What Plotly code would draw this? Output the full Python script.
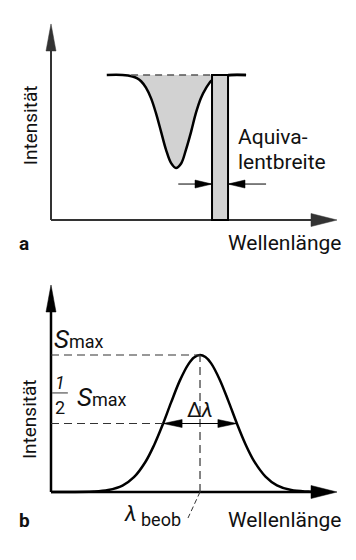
import plotly.graph_objects as go

# ---------------- data ----------------
# Panel a: absorption line (intensity relative to continuum = 1)
lam_a = [1.95, 2.5, 2.85, 3.0, 3.15, 3.32, 3.5, 3.67, 3.85, 4.02, 4.2, 4.37,
         4.55, 4.72, 4.9, 5.07, 5.24, 5.42, 5.6, 5.77, 5.95, 6.3, 6.82]
int_a = [1.0, 1.0, 0.99, 0.979, 0.957, 0.913, 0.839, 0.737, 0.608, 0.486, 0.392, 0.359,
         0.39, 0.486, 0.61, 0.74, 0.84, 0.91, 0.96, 0.98, 0.99, 1.0, 1.0]
continuum_x = [1.95, 6.82]
continuum_y = [1.0, 1.0]
dip_range = [2.8, 5.63]          # where the dashed continuum is visible
eqw_left, eqw_right = 5.63, 6.19  # equivalent-width rectangle

# Panel b: emission line (intensity relative to S_max = 1)
lam_b = [0.0, 1.5, 2.0, 2.5, 2.9, 3.3, 3.6, 3.9, 4.2, 4.5, 4.8, 5.0, 5.21,
         5.4, 5.6, 5.9, 6.2, 6.5, 6.8, 7.1, 7.5, 7.9, 8.4, 9.0, 9.5]
int_b = [0.0, 0.003, 0.014, 0.047, 0.108, 0.219, 0.340, 0.489, 0.654, 0.811, 0.932, 0.982, 1.0,
         0.985, 0.939, 0.820, 0.665, 0.500, 0.349, 0.226, 0.113, 0.049, 0.014, 0.003, 0.0]
lam_peak = 5.21
s_max = 1.0
half_left, half_right = 3.92, 6.50

FONT = "Roboto, Liberation Sans, sans-serif"
TXT = "#111111"
GRAY = "#d2d2d2"

# axis scale (px per unit) used only for sizing the arrowheads
SX = 28.6
SYA = 145.0
SYB = 137.0

fig = go.Figure()

fig.add_trace(go.Scatter(x=continuum_x, y=continuum_y, mode="lines",
                         line=dict(width=0, color=GRAY), hoverinfo="skip",
                         xaxis="x", yaxis="y", showlegend=False))
fig.add_trace(go.Scatter(x=lam_a, y=int_a, mode="lines", fill="tonexty",
                         fillcolor=GRAY, line=dict(color="black", width=2.5),
                         line_shape="spline", hoverinfo="skip",
                         xaxis="x", yaxis="y", showlegend=False))
fig.add_trace(go.Scatter(x=lam_b, y=int_b, mode="lines",
                         line=dict(color="black", width=2.5), line_shape="spline",
                         hoverinfo="skip", xaxis="x2", yaxis="y2", showlegend=False))

shapes = []
ann = []


def head(xr, yr, tx, ty, d, length, half, sy, color="black"):
    lx = length / SX
    hx = half / SX
    ly = length / sy
    hy = half / sy
    if d == "right":
        pts = [(tx, ty), (tx - lx, ty + hy), (tx - lx, ty - hy)]
    elif d == "left":
        pts = [(tx, ty), (tx + lx, ty + hy), (tx + lx, ty - hy)]
    else:  # up
        pts = [(tx, ty), (tx - hx, ty - ly), (tx + hx, ty - ly)]
    path = "M{},{} L{},{} L{},{} Z".format(*[v for p in pts for v in p])
    shapes.append(dict(type="path", path=path, xref=xr, yref=yr,
                       fillcolor=color, line=dict(color=color, width=0.5)))


def line(xr, yr, x0, y0, x1, y1, width=2, color="black", dash="solid"):
    shapes.append(dict(type="line", xref=xr, yref=yr, x0=x0, y0=y0, x1=x1, y1=y1,
                       line=dict(color=color, width=width, dash=dash)))


def text(xr, yr, x, y, s, size, xanchor="center", yanchor="middle", angle=0, bold=False):
    ann.append(dict(xref=xr, yref=yr, x=x, y=y, text=s, showarrow=False,
                    xanchor=xanchor, yanchor=yanchor, textangle=angle, borderpad=0,
                    font=dict(family=FONT, size=size, color=TXT,
                              weight="bold" if bold else "normal")))


SMAX = "<i>S</i><span style='font-size:18px'>max</span>"

# ---------- panel a ----------
AX_COL = "#333333"
line("x", "y", 0, 0, 9.45, 0, 2, AX_COL)
head("x", "y", 10.0, 0, "right", 26, 6.5, SYA, AX_COL)
line("x", "y", 0, 0, 0, 1.20, 2, AX_COL)
head("x", "y", 0, 1.352, "up", 27, 5, SYA, AX_COL)
# dashed continuum over the dip
line("x", "y", dip_range[0], 1.0, dip_range[1], 1.0, 1.5, "#555555", "7px,5px")
# equivalent-width rectangle
shapes.append(dict(type="rect", xref="x", yref="y", x0=eqw_left, x1=eqw_right,
                   y0=0, y1=1.0, fillcolor=GRAY, line=dict(color="black", width=2)))
line("x", "y", eqw_right, 1.0, 6.82, 1.0, 2.5, "black")
# dimension arrows
ya_arr = 0.248
line("x", "y", 4.45, ya_arr, eqw_left, ya_arr, 1, "black")
head("x", "y", eqw_left, ya_arr, "right", 17, 4, SYA)
line("x", "y", eqw_right, ya_arr, 7.52, ya_arr, 1, "black")
head("x", "y", eqw_right, ya_arr, "left", 17, 4, SYA)

text("x", "y", -0.73, 0.655, "Intensität", 19, angle=-90)
text("x", "y", 6.50, 0.575, "Aquiva-", 21, xanchor="left")
text("x", "y", 6.50, 0.40, "lentbreite", 21, xanchor="left")
text("x", "y", 8.15, -0.16, "Wellenlänge", 21)
text("x", "y", -0.94, -0.16, "a", 19, bold=True)

# ---------- panel b ----------
line("x2", "y2", 0, 0, 9.45, 0, 2.5, "black")
head("x2", "y2", 10.0, 0, "right", 26, 6.5, SYB)
line("x2", "y2", 0, 0, 0, 1.33, 2.5, "black")
head("x2", "y2", 0, 1.511, "up", 27, 5, SYB)
DASH = "8px,5px"
line("x2", "y2", 0, s_max, lam_peak, s_max, 1.2, "#333333", DASH)
line("x2", "y2", 0, s_max / 2, half_left, s_max / 2, 1.2, "#333333", DASH)
line("x2", "y2", lam_peak, 0, lam_peak, s_max, 1.2, "#333333", DASH)
line("x2", "y2", lam_peak, 0, 4.79, -0.19, 1.0, "#333333", "5px,3px")
line("x2", "y2", half_left, s_max / 2, half_right, s_max / 2, 1, "black")
head("x2", "y2", half_left, s_max / 2, "left", 19, 4, SYB)
head("x2", "y2", half_right, s_max / 2, "right", 19, 4, SYB)

text("x2", "y2", -0.73, 0.533, "Intensität", 19, angle=-90)
text("x2", "y2", 0.08, 1.12, SMAX, 26, xanchor="left")
text("x2", "y2", 0.31, 0.80, "<i>1</i>", 18)
line("x2", "y2", 0.04, 0.723, 0.59, 0.723, 1, "#333333")
text("x2", "y2", 0.31, 0.615, "2", 18)
text("x2", "y2", 0.88, 0.69, SMAX, 26, xanchor="left")
text("x2", "y2", 5.22, 0.60, "Δ<i>λ</i>", 21)
text("x2", "y2", 3.04, -0.155, "<i>λ</i>", 22, xanchor="right")
text("x2", "y2", 3.10, -0.20, "beob", 18, xanchor="left")
text("x2", "y2", 8.15, -0.205, "Wellenlänge", 21)
text("x2", "y2", -0.94, -0.205, "b", 19, bold=True)

xr = [-51 / SX, 305 / SX]
ax_common = dict(visible=False, showgrid=False, zeroline=False, fixedrange=True)
fig.update_layout(
    width=356, height=560, margin=dict(l=0, r=0, t=0, b=0),
    paper_bgcolor="white", plot_bgcolor="white",
    xaxis=dict(range=xr, domain=[0, 1], anchor="y", **ax_common),
    yaxis=dict(range=[-60 / SYA, 220 / SYA], domain=[0.5, 1], anchor="x", **ax_common),
    xaxis2=dict(range=xr, domain=[0, 1], anchor="y2", **ax_common),
    yaxis2=dict(range=[-68 / SYB, 212 / SYB], domain=[0, 0.5], anchor="x2", **ax_common),
    shapes=shapes, annotations=ann, showlegend=False,
)

fig.write_html("out.html", config={"displayModeBar": False, "staticPlot": True})
